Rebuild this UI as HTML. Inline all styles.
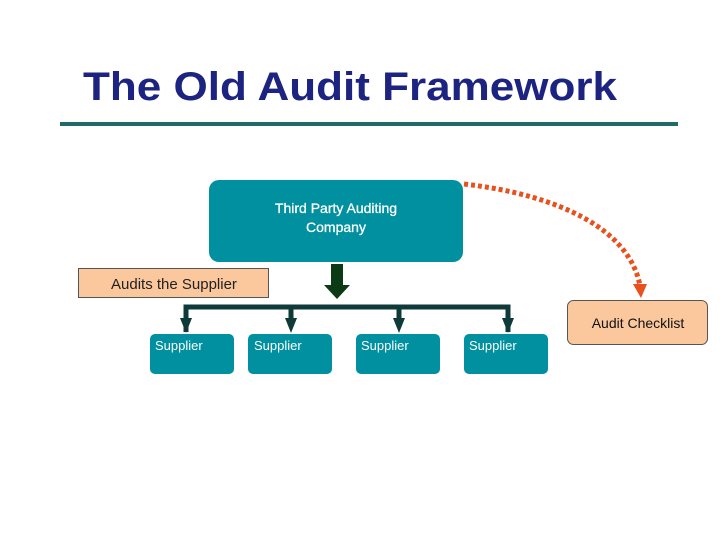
<!DOCTYPE html>
<html><head><style>html,body{margin:0;padding:0;background:#fff}svg{display:block}</style></head>
<body>
<svg width="720" height="540" viewBox="0 0 720 540" xmlns="http://www.w3.org/2000/svg" font-family="Liberation Sans, Arial, sans-serif">
<text x="83" y="100" font-size="40" font-weight="bold" fill="#1c2380" textLength="534" lengthAdjust="spacingAndGlyphs">The Old Audit Framework</text>
<rect x="60" y="122" width="618" height="4" fill="#1f6b68"/>
<rect x="209" y="180" width="254" height="82" rx="10" fill="#00909f"/>
<text x="336" y="213" font-size="14" fill="#fff" text-anchor="middle" stroke="#fff" stroke-width="0.3">Third Party Auditing</text>
<text x="336" y="232" font-size="14" fill="#fff" text-anchor="middle" stroke="#fff" stroke-width="0.3">Company</text>
<rect x="78.5" y="268.5" width="190" height="29" fill="#fbc79c" stroke="#555" stroke-width="1"/>
<text x="111" y="289" font-size="15" fill="#222">Audits the Supplier</text>
<rect x="331" y="264" width="12" height="22" fill="#0c3a14"/>
<polygon points="324,285 350,285 337,299" fill="#0c3a14"/>
<path d="M186,332 V307 H508 V332" fill="none" stroke="#0e3a3a" stroke-width="5"/>
<g fill="#0e3a3a">
<rect x="288.5" y="307" width="5" height="15"/><rect x="396.5" y="307" width="5" height="15"/>
<polygon points="180,318 192,318 186,333"/><polygon points="285,318 297,318 291,333"/>
<polygon points="393,318 405,318 399,333"/><polygon points="502,318 514,318 508,333"/>
</g>
<g fill="#00909f">
<rect x="150" y="334" width="84" height="40" rx="5"/>
<rect x="248" y="334" width="84" height="40" rx="5"/>
<rect x="356" y="334" width="84" height="40" rx="5"/>
<rect x="464" y="334" width="84" height="40" rx="5"/>
</g>
<g font-size="13" fill="#fff">
<text x="155" y="350">Supplier</text><text x="254" y="350">Supplier</text>
<text x="361" y="350">Supplier</text><text x="469" y="350">Supplier</text>
</g>
<rect x="567.5" y="300.5" width="140" height="44" rx="6" fill="#fbc79c" stroke="#555"/>
<text x="638" y="328" font-size="14" fill="#111" text-anchor="middle">Audit Checklist</text>
<path d="M464,184 C560,195 630,230 640,286" fill="none" stroke="#e8501e" stroke-width="5" stroke-dasharray="4,3"/>
<polygon points="633,284 647,284 641,298" fill="#e8501e"/>
</svg>
</body></html>
